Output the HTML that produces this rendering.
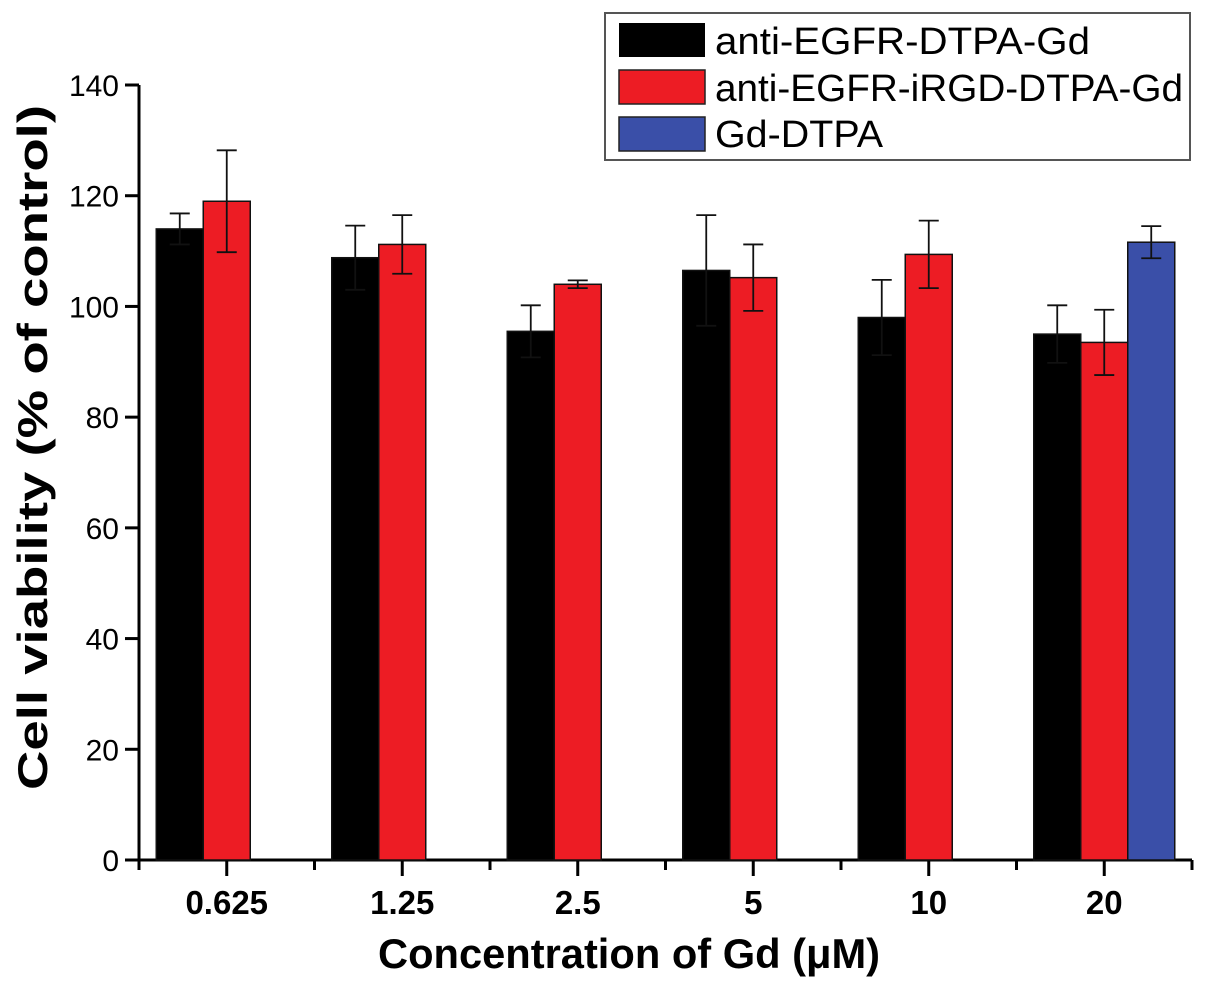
<!DOCTYPE html>
<html><head><meta charset="utf-8"><style>
html,body{margin:0;padding:0;background:#fff}
svg{display:block;font-family:"Liberation Sans",Arial,sans-serif}
</style></head><body>
<svg id="chart" width="1205" height="985" viewBox="0 0 1205 985">
<g id="axes"></g><g id="bars"></g>
<g>
<rect x="605" y="13" width="585" height="147" fill="#fff" stroke="#555" stroke-width="2"/>
<rect x="619" y="23" width="86" height="34" fill="#000"/>
<text x="715" y="54" font-size="38" textLength="375" lengthAdjust="spacingAndGlyphs">anti-EGFR-DTPA-Gd</text>
<rect x="619" y="70" width="86" height="34" fill="#ed1c24" stroke="#222" stroke-width="1.5"/>
<text x="715" y="101" font-size="38" textLength="468" lengthAdjust="spacingAndGlyphs">anti-EGFR-iRGD-DTPA-Gd</text>
<rect x="619" y="117" width="86" height="34" fill="#3a4fa8" stroke="#222" stroke-width="1.5"/>
<text x="715" y="147" font-size="38" textLength="168" lengthAdjust="spacingAndGlyphs">Gd-DTPA</text>
</g>
<text x="378" y="968" font-size="42" font-weight="bold" textLength="502" lengthAdjust="spacingAndGlyphs">Concentration of Gd (μM)</text>
<text transform="translate(47,790) rotate(-90)" font-size="42" font-weight="bold" textLength="685" lengthAdjust="spacingAndGlyphs">Cell viability (% of control)</text>
</svg>
<script>
const categories = ["0.625","1.25","2.5","5","10","20"];
const seriesNames = ["anti-EGFR-DTPA-Gd","anti-EGFR-iRGD-DTPA-Gd","Gd-DTPA"];
const blackVals = [114,108.8,95.5,106.5,98,95];
const blackErr = [2.8,5.8,4.7,10,6.8,5.2];
const redVals = [119,111.2,104,105.2,109.4,93.5];
const redErr = [9.2,5.3,0.7,6,6.1,5.9];
const blueVals = [null,null,null,null,null,111.6];
const blueErr = [null,null,null,null,null,2.9];
const yTicks = [0,20,40,60,80,100,120,140];

const NS="http://www.w3.org/2000/svg";
const x0=139, y0=860, yTop=85, yMax=140, catW=175.5, barW=47;
const yS=v=>y0-(v/yMax)*(y0-yTop);
const xC=i=>x0+catW*(i+0.5);
function mk(tag,attrs,parent){const e=document.createElementNS(NS,tag);for(const k in attrs)e.setAttribute(k,attrs[k]);parent.appendChild(e);return e;}
const axes=document.getElementById('axes'), bars=document.getElementById('bars');

const series=[{v:blackVals,e:blackErr,c:"#000",n:"black"},{v:redVals,e:redErr,c:"#ed1c24",n:"red"},{v:blueVals,e:blueErr,c:"#3a4fa8",n:"blue"}];
series.forEach((s,si)=>{
  s.v.forEach((v,i)=>{
    if(v==null)return;
    const x=xC(i)-1.5*barW+si*barW;
    const r=mk('rect',{x:x,y:yS(v),width:barW,height:y0-yS(v),fill:s.c,stroke:"#111","stroke-width":1.5},bars);
    
    
    const cx=x+barW/2, e=s.e[i];
    const g=mk('g',{stroke:"#111","stroke-width":1.8},bars);
    
    
    mk('line',{x1:cx,x2:cx,y1:yS(v+e),y2:yS(v-e)},g);
    mk('line',{x1:cx-10,x2:cx+10,y1:yS(v+e),y2:yS(v+e)},g);
    mk('line',{x1:cx-10,x2:cx+10,y1:yS(v-e),y2:yS(v-e)},g);
  });
});

const ya=mk('line',{x1:x0,x2:x0,y1:yTop,y2:y0,stroke:"#000","stroke-width":3},axes);


const xa=mk('line',{x1:x0-1,x2:x0+catW*6,y1:y0,y2:y0,stroke:"#000","stroke-width":3},axes);


yTicks.forEach(t=>{
  mk('line',{x1:x0-14,x2:x0,y1:yS(t),y2:yS(t),stroke:"#000","stroke-width":3},axes);
  const tx=mk('text',{x:x0-20,y:yS(t)+11,"font-size":30,"text-anchor":"end"},axes);
  tx.textContent=t;
  
  
});
for(let i=0;i<=6;i++){mk('line',{x1:x0+catW*i,x2:x0+catW*i,y1:y0,y2:y0+10,stroke:"#000","stroke-width":3},axes);}
categories.forEach((c,i)=>{
  mk('line',{x1:xC(i),x2:xC(i),y1:y0,y2:y0+16,stroke:"#000","stroke-width":3},axes);
  const tx=mk('text',{x:xC(i),y:y0+54,"font-size":33,"font-weight":"bold","text-anchor":"middle"},axes);
  tx.textContent=c;
  
  
});
</script>
</body></html>
